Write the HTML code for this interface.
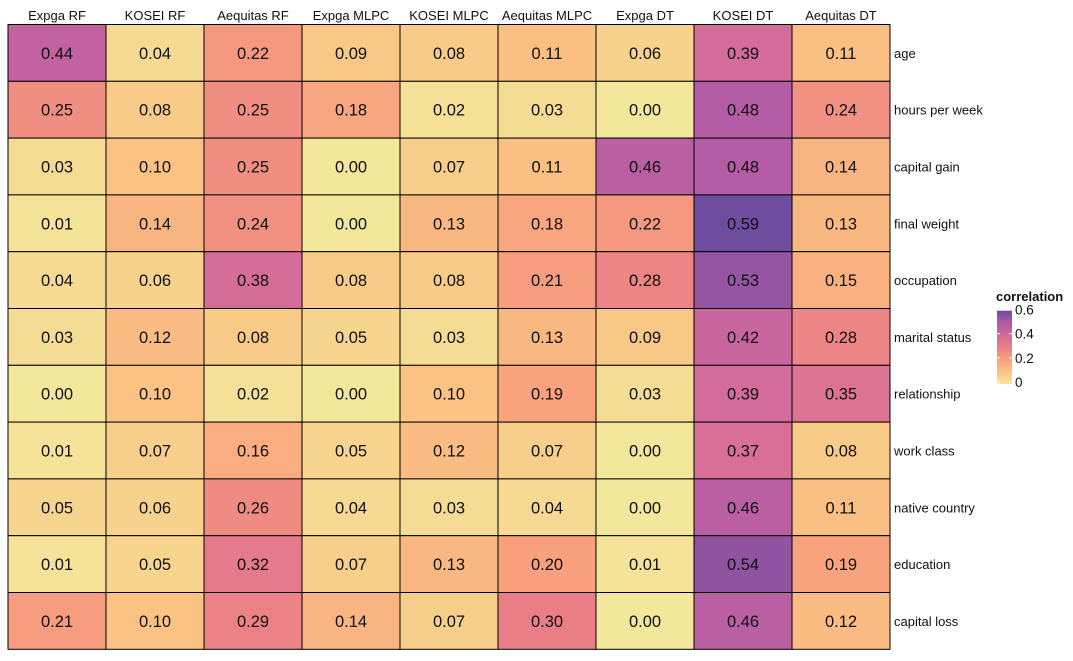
<!DOCTYPE html>
<html><head><meta charset="utf-8"><style>
body{margin:0;background:#fff;font-family:"Liberation Sans",Arial,sans-serif}
svg text{font-family:"Liberation Sans",Arial,sans-serif}
</style></head><body>
<svg id="c" width="1073" height="656"></svg>
<script>
const columns=["Expga RF","KOSEI RF","Aequitas RF","Expga MLPC","KOSEI MLPC","Aequitas MLPC","Expga DT","KOSEI DT","Aequitas DT"];
const rows=["age","hours per week","capital gain","final weight","occupation","marital status","relationship","work class","native country","education","capital loss"];
const values=[
[0.44,0.04,0.22,0.09,0.08,0.11,0.06,0.39,0.11],
[0.25,0.08,0.25,0.18,0.02,0.03,0.00,0.48,0.24],
[0.03,0.10,0.25,0.00,0.07,0.11,0.46,0.48,0.14],
[0.01,0.14,0.24,0.00,0.13,0.18,0.22,0.59,0.13],
[0.04,0.06,0.38,0.08,0.08,0.21,0.28,0.53,0.15],
[0.03,0.12,0.08,0.05,0.03,0.13,0.09,0.42,0.28],
[0.00,0.10,0.02,0.00,0.10,0.19,0.03,0.39,0.35],
[0.01,0.07,0.16,0.05,0.12,0.07,0.00,0.37,0.08],
[0.05,0.06,0.26,0.04,0.03,0.04,0.00,0.46,0.11],
[0.01,0.05,0.32,0.07,0.13,0.20,0.01,0.54,0.19],
[0.21,0.10,0.29,0.14,0.07,0.30,0.00,0.46,0.12]];
const legendTicks=[0,0.2,0.4,0.6];
const NS="http://www.w3.org/2000/svg",svg=document.getElementById('c');
const stops=["#f3e79b","#fac484","#f8a07e","#eb7f86","#d26a9c","#b05aa6","#6e4c9e"];
const vmax=0.59;
function hex(h){return [1,3,5].map(i=>parseInt(h.substr(i,2),16));}
function color(v){let t=Math.max(0,Math.min(1,v/vmax))*(stops.length-1);let i=Math.min(Math.floor(t),stops.length-2),f=t-i;
const a=hex(stops[i]),b=hex(stops[i+1]);return `rgb(${a.map((x,k)=>Math.round(x+(b[k]-x)*f)).join(',')})`;}
const x0=8,y0=24.5,cw=98,rh=56.8;
const xs=i=>x0+i*cw, ys=j=>y0+j*rh;
function el(t,a,txt){const e=document.createElementNS(NS,t);for(const k in a)e.setAttribute(k,a[k]);if(txt!=null)e.textContent=txt;svg.appendChild(e);return e;}
columns.forEach((c,i)=>{const t=el('text',{x:xs(i)+cw/2,y:20,'text-anchor':'middle','font-size':13,fill:'#111'},c);

});
rows.forEach((r,j)=>{const t=el('text',{x:x0+9*cw+4,y:ys(j)+rh/2+5,'font-size':13,fill:'#111'},r);

});
values.forEach((row,j)=>row.forEach((v,i)=>{
const r=el('rect',{x:xs(i),y:ys(j),width:cw,height:rh,fill:color(v),stroke:'#000','stroke-width':1});


const t=el('text',{x:xs(i)+cw/2,y:ys(j)+rh/2+6,'text-anchor':'middle','font-size':16.5,fill:'#111'},v.toFixed(2));


}));
const lt=el('text',{x:996,y:301,'font-size':13,'font-weight':'bold',fill:'#111'},'correlation');


const defs=el('defs',{});const g=document.createElementNS(NS,'linearGradient');g.setAttribute('id','lg');g.setAttribute('x1',0);g.setAttribute('y1',1);g.setAttribute('x2',0);g.setAttribute('y2',0);
stops.forEach((s,k)=>{const st=document.createElementNS(NS,'stop');st.setAttribute('offset',k/(stops.length-1));st.setAttribute('stop-color',s);g.appendChild(st);});defs.appendChild(g);
const lb=382,ly=v=>lb-(v/0.6)*(lb-309.5);
const ltop=ly(vmax);
const bar=el('rect',{x:997,y:ltop,width:15,height:lb-ltop+2,fill:'url(#lg)'});


legendTicks.forEach(v=>{const y=ly(v);
el('line',{x1:997,x2:1000,y1:y,y2:y,stroke:'#fff'});el('line',{x1:1009,x2:1012,y1:y,y2:y,stroke:'#fff'});
const t=el('text',{x:1015,y:y+5,'font-size':13.5,fill:'#111'},String(v));

});
</script>
</body></html>
